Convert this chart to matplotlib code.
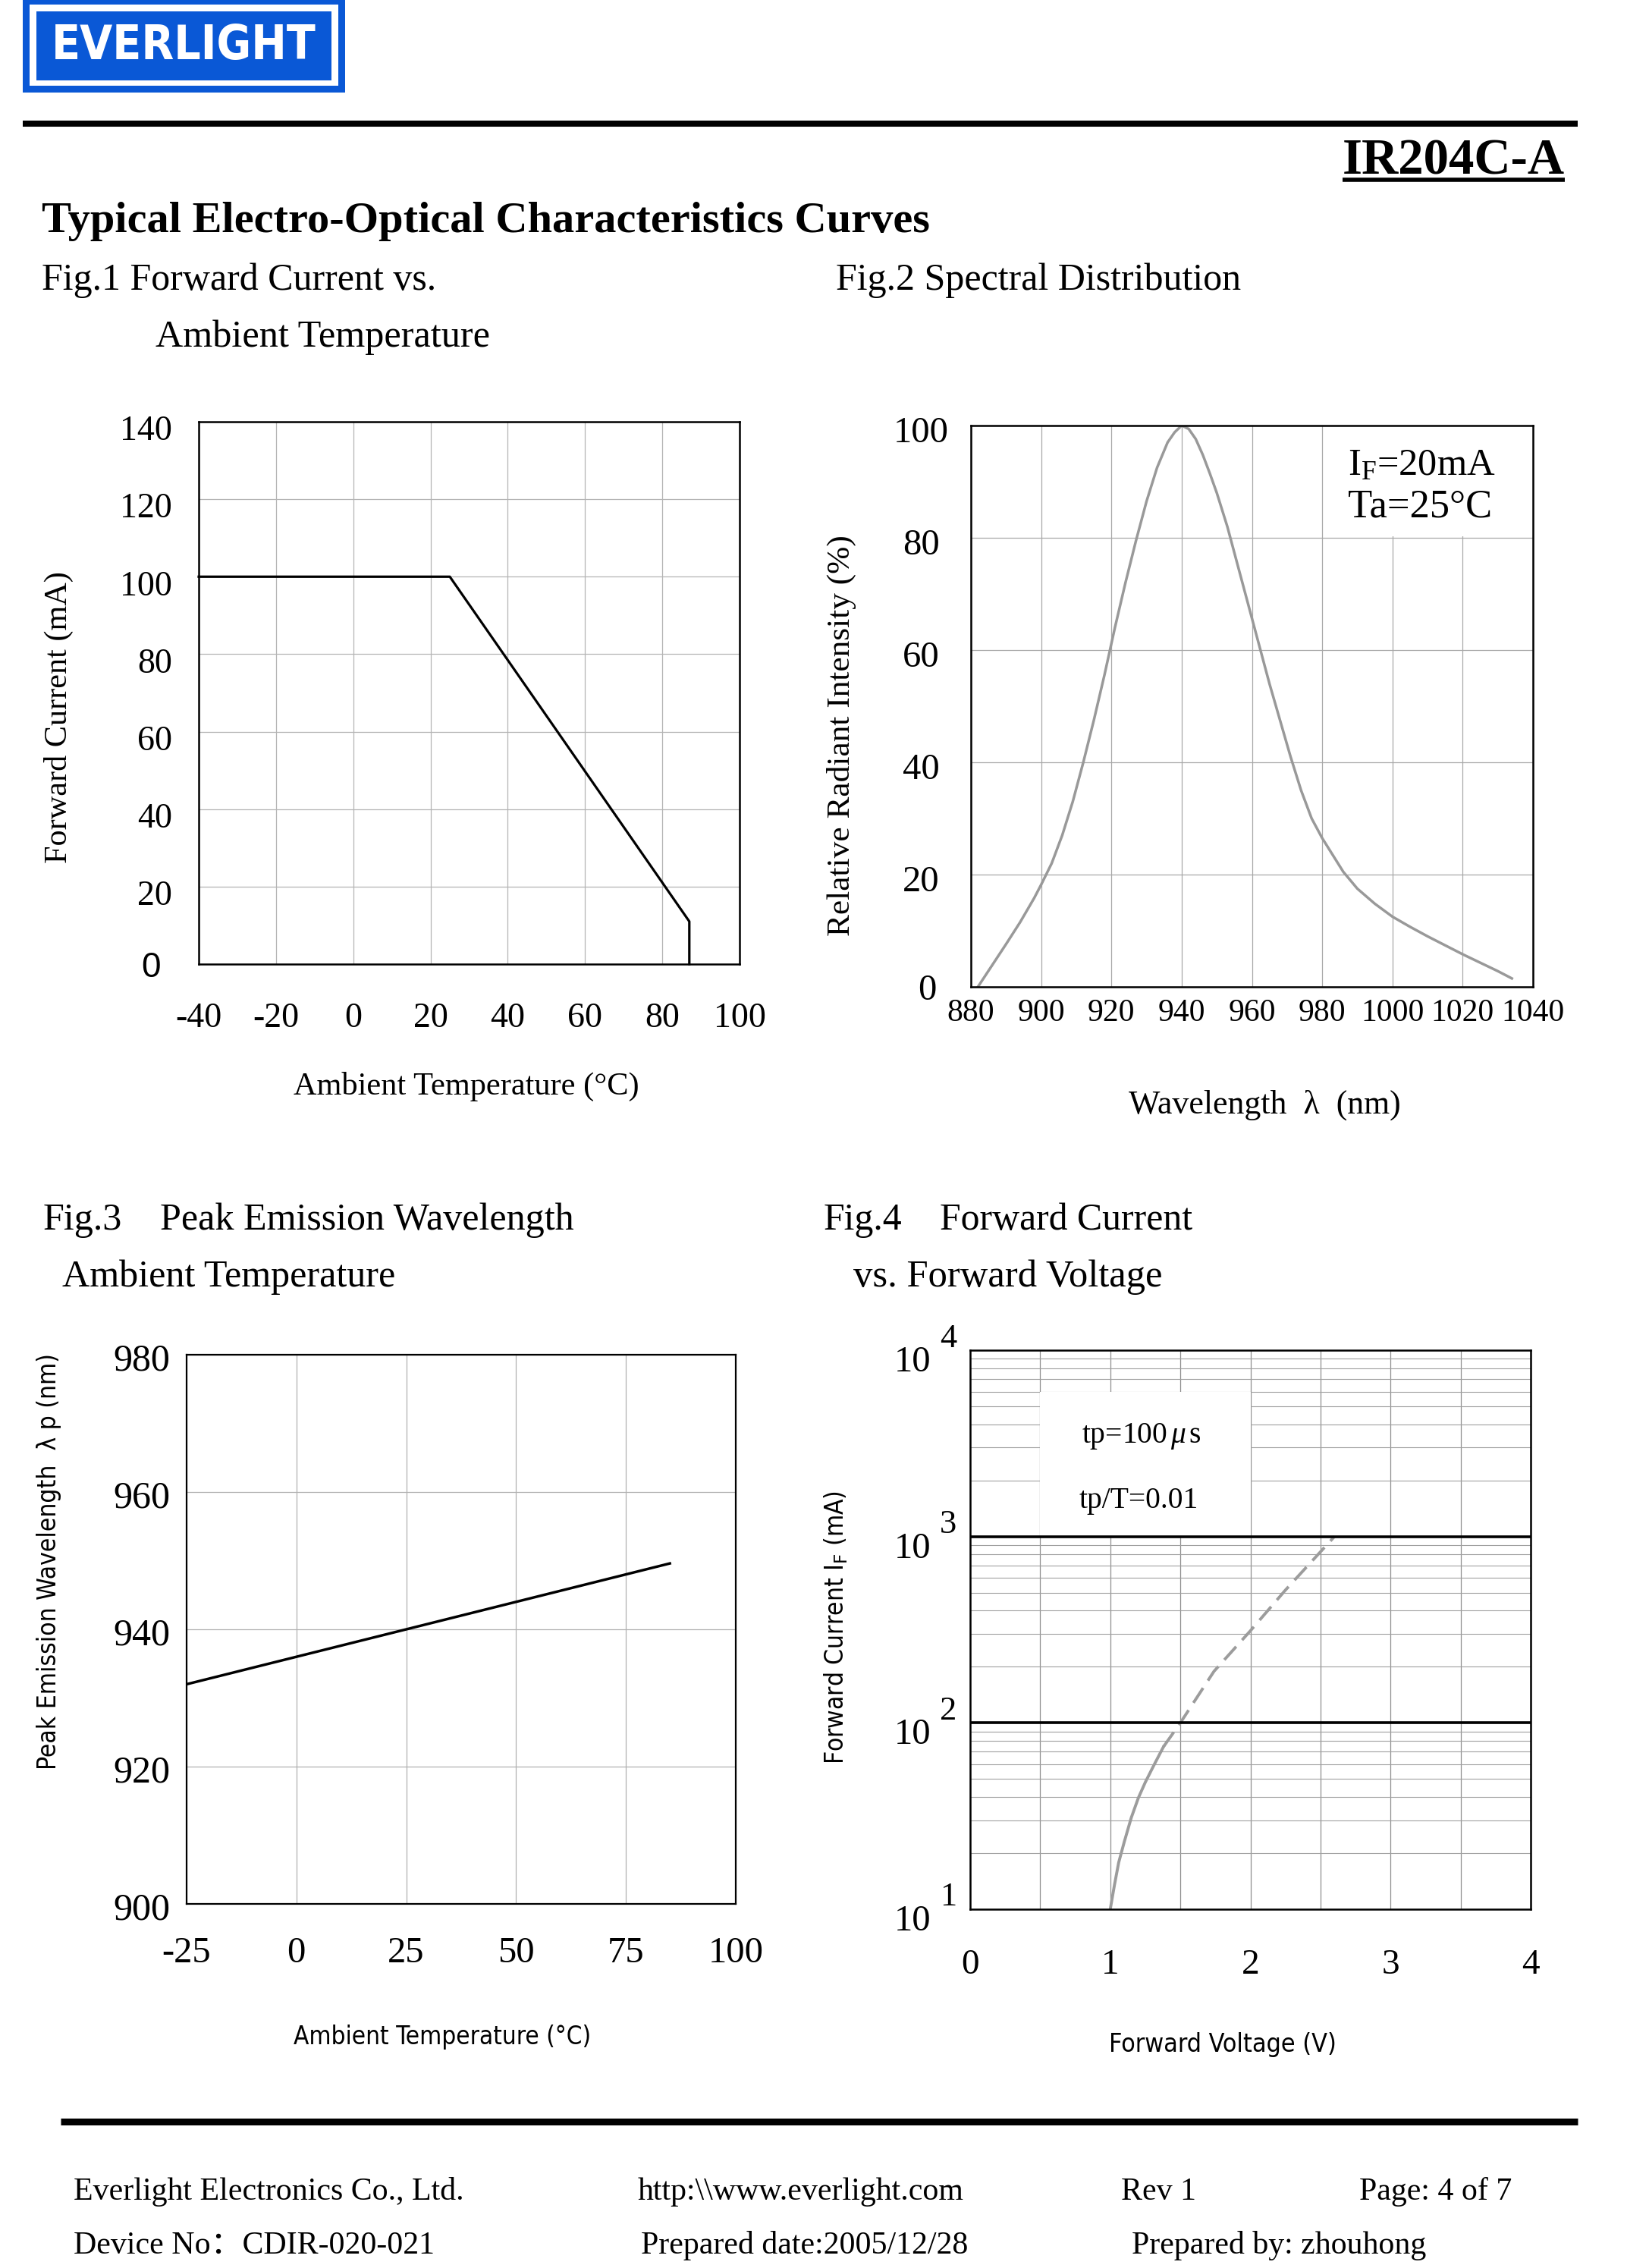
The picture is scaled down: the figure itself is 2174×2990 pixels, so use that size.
import numpy as np
import matplotlib
matplotlib.use('Agg')
import matplotlib.pyplot as plt
from matplotlib import font_manager as fm
from matplotlib.font_manager import FontProperties
from matplotlib.patches import Rectangle
from matplotlib.lines import Line2D
from matplotlib.ticker import FixedLocator, LogLocator, NullFormatter

# ---------------- data ----------------
fig1_temp = [-40, 25, 87, 87]
fig1_current = [100, 100, 11, 0]
fig1_xticks = [-40, -20, 0, 20, 40, 60, 80, 100]
fig1_yticks = [0, 20, 40, 60, 80, 100, 120, 140]

fig2_wavelength = [882, 886, 890, 894, 898, 900, 903, 906, 909, 912, 915, 918, 921, 924, 927,
                   930, 933, 936, 938, 940, 942, 944, 946, 948, 950, 953, 956, 959, 962, 965,
                   968, 971, 974, 977, 980, 983, 986, 990, 995, 1000, 1005, 1010, 1015, 1020,
                   1025, 1030, 1034]
fig2_intensity = [0, 3.8, 7.6, 11.5, 15.8, 18.2, 22, 27, 33, 40, 47.5, 55.5, 64, 72, 79.5,
                  86.5, 92.5, 97, 98.8, 100, 99.4, 97.6, 94.8, 91.5, 88, 82, 75, 68, 61, 54,
                  47.5, 41, 35, 30, 26.5, 23.5, 20.5, 17.5, 14.8, 12.5, 10.7, 9.0, 7.4, 5.8,
                  4.3, 2.8, 1.5]
fig2_xticks = [880, 900, 920, 940, 960, 980, 1000, 1020, 1040]
fig2_yticks = [0, 20, 40, 60, 80, 100]

fig3_temp = [-25, 85]
fig3_wavelength = [932, 949.6]
fig3_xticks = [-25, 0, 25, 50, 75, 100]
fig3_yticks = [900, 920, 940, 960, 980]

fig4_v_solid = [1.00, 1.03, 1.06, 1.10, 1.15, 1.20, 1.25, 1.31, 1.38]
fig4_i_solid = [10, 13.5, 17.8, 23, 31, 39.5, 48, 59, 74.5]
fig4_v_dash = [1.38, 1.50, 1.74, 2.00, 2.25, 2.60]
fig4_i_dash = [74.5, 100, 189, 312, 516, 1000]
fig4_xticks = [0, 1, 2, 3, 4]
fig4_xgrid = [0, 0.5, 1, 1.5, 2, 2.5, 3, 3.5, 4]
fig4_decades = [10, 100, 1000, 10000]
fig4_exponents = ['1', '2', '3', '4']
fig4_bold_lines = [100, 1000]

footer_row1 = ["Everlight Electronics Co., Ltd.", "http:\\\\www.everlight.com",
               "Rev 1", "Page: 4 of 7"]
footer_row2 = ["Device No\uff1aCDIR-020-021", "Prepared date:2005/12/28",
               "Prepared by: zhouhong"]

# ---------------- setup ----------------
W, H = 2174, 2990
DPI = 100
SERIF = 'Liberation Serif'
SANS = 'Liberation Sans'
CJK = 'Noto Sans CJK SC'


def _w(f):
    w = f.weight
    if isinstance(w, str):
        w = fm.weight_dict.get(w, 400)
    return w


def find_condensed(bold=False):
    cond = ('condensed', 'semi-condensed', 'extra-condensed', 'ultra-condensed')
    best = None
    for f in fm.fontManager.ttflist:
        n = f.name
        if 'Mono' in n or 'Serif' in n or 'CJK' in n:
            continue
        if not ('Narrow' in n or 'Condensed' in n or f.stretch in cond):
            continue
        if f.style != 'normal':
            continue
        isbold = _w(f) >= 600
        if isbold != bold:
            continue
        score = 0 if 'Liberation Sans Narrow' in n else (1 if 'Arimo' in n else 2)
        if best is None or score < best[0]:
            best = (score, f)
    return best[1] if best else None


fc = find_condensed(False)
fcb = find_condensed(True)
if fc is not None:
    NARROW_FP = FontProperties(fname=fc.fname)
    plt.rcParams['mathtext.sf'] = f"{fc.name}:stretch={fc.stretch}" if fc.stretch != 'normal' else fc.name
else:
    NARROW_FP = FontProperties(family=SANS)
    plt.rcParams['mathtext.sf'] = SANS
BOLD_NARROW_FP = FontProperties(fname=fcb.fname) if fcb is not None else FontProperties(family=SANS, weight='bold')

plt.rcParams['font.family'] = [SERIF, 'DejaVu Serif', CJK]
plt.rcParams['mathtext.fontset'] = 'custom'
plt.rcParams['mathtext.rm'] = SERIF
plt.rcParams['mathtext.it'] = SERIF + ':italic'

fig = plt.figure(figsize=(W / DPI, H / DPI), dpi=DPI)
fig.patch.set_facecolor('white')
renderer = fig.canvas.get_renderer()


def px(x, y):
    return x / W, 1 - y / H


def ftext(x, y, s, size=30, width=None, length=None, **kw):
    t = fig.text(*px(x, y), s, fontsize=size, **kw)
    if width is not None or length is not None:
        bb = t.get_window_extent(renderer)
        cur = bb.width if width is not None else bb.height
        target = width if width is not None else length
        t.set_fontsize(size * target / cur)
    return t


def hline(x0, x1, y, lw, color='black'):
    fig.add_artist(Line2D([x0 / W, x1 / W], [1 - y / H, 1 - y / H], lw=lw, color=color,
                          transform=fig.transFigure, solid_capstyle='butt'))


def make_axes(l, t, r, b):
    return fig.add_axes([l / W, 1 - b / H, (r - l) / W, (b - t) / H])


def ylab(ax, v, s, dx, dy=0, ha='right', size=33, **kw):
    ax.annotate(s, xy=(0, v), xycoords=('axes fraction', 'data'), xytext=(dx, dy),
                textcoords='offset pixels', ha=ha, va='center_baseline',
                annotation_clip=False, fontsize=size, **kw)


def xlab(ax, v, s, dy, dx=0, size=33, **kw):
    ax.annotate(s, xy=(v, 0), xycoords=('data', 'axes fraction'), xytext=(dx, dy),
                textcoords='offset pixels', ha='center', va='center_baseline',
                annotation_clip=False, fontsize=size, **kw)


def style_axes(ax, gridcolor, spine_lw=1.8):
    ax.tick_params(which='both', length=0, labelbottom=False, labelleft=False)
    ax.grid(True, which='major', color=gridcolor, lw=0.9)
    ax.set_axisbelow(True)
    for sp in ax.spines.values():
        sp.set_linewidth(spine_lw)
        sp.set_color('black')
        sp.set_zorder(4)


# ---------------- header ----------------
BLUE = '#0a58d6'
fig.add_artist(Rectangle(px(30, 122), 425 / W, 122 / H, transform=fig.transFigure,
                         facecolor=BLUE, edgecolor='none'))
fig.add_artist(Rectangle(px(39, 113), 407 / W, 107 / H, transform=fig.transFigure,
                         facecolor='white', edgecolor='none'))
fig.add_artist(Rectangle(px(48, 106), 389 / W, 91 / H, transform=fig.transFigure,
                         facecolor=BLUE, edgecolor='none'))
ftext(242, 61, 'EVERLIGHT', size=50, width=349, ha='center', va='center', color='white',
      fontproperties=BOLD_NARROW_FP)

hline(30, 2080, 163, 5.8)
ftext(2063, 230, 'IR204C-A', size=50, width=293, ha='right', va='baseline', weight='bold')
hline(1770, 2063, 237, 4.0)

ftext(55, 306, 'Typical Electro-Optical Characteristics Curves', size=42, width=1171,
      va='baseline', weight='bold')
ftext(55, 382, 'Fig.1 Forward Current vs.', size=36, width=520, va='baseline')
ftext(205, 457, 'Ambient Temperature', size=36, width=441, va='baseline')
ftext(1102, 382, 'Fig.2 Spectral Distribution', size=36, width=534, va='baseline')

t = ftext(211, 1621, 'Peak Emission Wavelength', size=36, width=546, va='baseline')
ftext(57, 1621, 'Fig.3', size=t.get_fontsize(), va='baseline')
ftext(82, 1696, 'Ambient Temperature', size=36, width=439, va='baseline')
t = ftext(1239, 1621, 'Forward Current', size=36, width=333, va='baseline')
ftext(1086, 1621, 'Fig.4', size=t.get_fontsize(), va='baseline')
ftext(1125, 1696, 'vs. Forward Voltage', size=36, width=407, va='baseline')

# ---------------- Fig.1 ----------------
ax1 = make_axes(262, 556, 975, 1271)
ax1.set_xlim(-40, 100)
ax1.set_ylim(0, 140)
ax1.xaxis.set_major_locator(FixedLocator(fig1_xticks))
ax1.yaxis.set_major_locator(FixedLocator(fig1_yticks))
style_axes(ax1, '#b4b4b4')
ax1.plot(fig1_temp, fig1_current, color='black', lw=2.3, zorder=3, clip_on=False)
for v in fig1_yticks:
    if v == 0:
        ylab(ax1, v, '0', -63, 0, ha='center', family=SANS)
    else:
        ylab(ax1, v, str(v), -35, -8)
for v in fig1_xticks:
    xlab(ax1, v, str(v), -67)
ftext(77, 946, 'Forward Current (mA)', size=32, length=386, rotation=90,
      ha='center', va='center')
ftext(615, 1432, 'Ambient Temperature (\u00b0C)', size=31, width=454,
      ha='center', va='center')

# ---------------- Fig.2 ----------------
ax2 = make_axes(1280, 561, 2021, 1301)
ax2.set_xlim(880, 1040)
ax2.set_ylim(0, 100)
ax2.xaxis.set_major_locator(FixedLocator(fig2_xticks))
ax2.yaxis.set_major_locator(FixedLocator(fig2_yticks))
style_axes(ax2, '#a8a8a8')
ax2.add_patch(Rectangle((985, 80.3), 55, 19.7, facecolor='white', edgecolor='none', zorder=1))
ax2.plot(fig2_wavelength, fig2_intensity, color='#999999', lw=2.5, zorder=3,
         solid_joinstyle='round')
for v in fig2_yticks:
    if v == 0:
        ylab(ax2, v, '0', -58, 0, ha='center', size=35)
    else:
        ylab(ax2, v, str(v), -66, -5, ha='center', size=35)
for v in fig2_xticks:
    xlab(ax2, v, str(v), -30, size=30)
ftext(1109, 970, 'Relative Radiant Intensity (%)', size=32, length=529, rotation=90,
      ha='center', va='center')
ftext(1667, 1457, 'Wavelength  \u03bb  (nm)', size=32, width=359, ha='center', va='center')
ftext(1777, 626, r'I$_{\mathrm{F}}$=20mA', size=37, width=195, va='baseline')
ftext(1777, 682, 'Ta=25\u00b0C', size=37, width=190, va='baseline')

# ---------------- Fig.3 ----------------
ax3 = make_axes(246, 1786, 970, 2510)
ax3.set_xlim(-25, 100)
ax3.set_ylim(900, 980)
ax3.xaxis.set_major_locator(FixedLocator(fig3_xticks))
ax3.yaxis.set_major_locator(FixedLocator(fig3_yticks))
style_axes(ax3, '#b0b0b0', 1.6)
ax3.plot(fig3_temp, fig3_wavelength, color='black', lw=2.5, zorder=3)
for v in fig3_yticks:
    ylab(ax3, v, str(v), -22, -3, size=36)
for v in fig3_xticks:
    xlab(ax3, v, str(v), -60, size=35)
ftext(65, 2059, 'Peak Emission Wavelength  \u03bb p (nm)', size=30, length=547, rotation=90,
      ha='center', va='center', fontproperties=NARROW_FP)
ftext(583, 2685, 'Ambient Temperature (\u00b0C)', size=30, width=391, ha='center', va='center',
      fontproperties=NARROW_FP)

# ---------------- Fig.4 ----------------
ax4 = make_axes(1279, 1780, 2018, 2517)
ax4.set_yscale('log')
ax4.set_xlim(0, 4)
ax4.set_ylim(10, 10000)
ax4.xaxis.set_major_locator(FixedLocator(fig4_xgrid))
ax4.yaxis.set_major_locator(FixedLocator(fig4_decades))
ax4.yaxis.set_minor_locator(LogLocator(base=10, subs=np.arange(2, 10)))
ax4.yaxis.set_minor_formatter(NullFormatter())
style_axes(ax4, '#8f8f8f', 1.8)
ax4.grid(True, which='minor', axis='y', color='#a0a0a0', lw=0.8)
ax4.add_patch(Rectangle((0.5, 1000), 1.5, 5000, facecolor='white', edgecolor='none', zorder=1))
ax4.plot(fig4_v_solid, fig4_i_solid, color='#9c9c9c', lw=2.8, zorder=2,
         solid_joinstyle='round')
ax4.plot(fig4_v_dash, fig4_i_dash, color='#9c9c9c', lw=2.8, zorder=2,
         linestyle=(0, (6, 3)))
for y in fig4_bold_lines:
    ax4.axhline(y, color='black', lw=2.6, zorder=3)
for v, e in zip(fig4_decades, fig4_exponents):
    ylab(ax4, v, '10', -52, -11, size=35)
    ylab(ax4, v, e, -40, 20, ha='left', size=32)
for v in fig4_xticks:
    xlab(ax4, v, str(v), -69, size=34)
ftext(1102, 2145, r'Forward Current I$_{\mathsf{F}}$ (mA)', size=28, length=360, rotation=90,
      ha='center', va='center', fontproperties=NARROW_FP)
ftext(1612, 2696, 'Forward Voltage (V)', size=30, width=300, ha='center', va='center',
      fontproperties=NARROW_FP)
t = ftext(1501, 1988, 'tp/T=0.01', size=30, width=157, ha='center', va='baseline')
ftext(1505, 1902, r'tp=100$\,\mu\,$s', size=t.get_fontsize(), ha='center', va='baseline')

# ---------------- footer ----------------
hline(80, 2080, 2797, 6.5)
row1_x = [97, 841, 1478, 1792]
row2_x = [97, 845, 1492]
t = ftext(row1_x[0], 2900, footer_row1[0], size=31, width=513, va='baseline',
          family=[SERIF, CJK])
fsz = t.get_fontsize()
for s, x in zip(footer_row1[1:], row1_x[1:]):
    ftext(x, 2900, s, size=fsz, va='baseline', family=[SERIF, CJK])
for s, x in zip(footer_row2, row2_x):
    ftext(x, 2971, s, size=fsz, va='baseline', family=[SERIF, CJK])

fig.savefig('out.png', dpi=DPI, facecolor='white')
